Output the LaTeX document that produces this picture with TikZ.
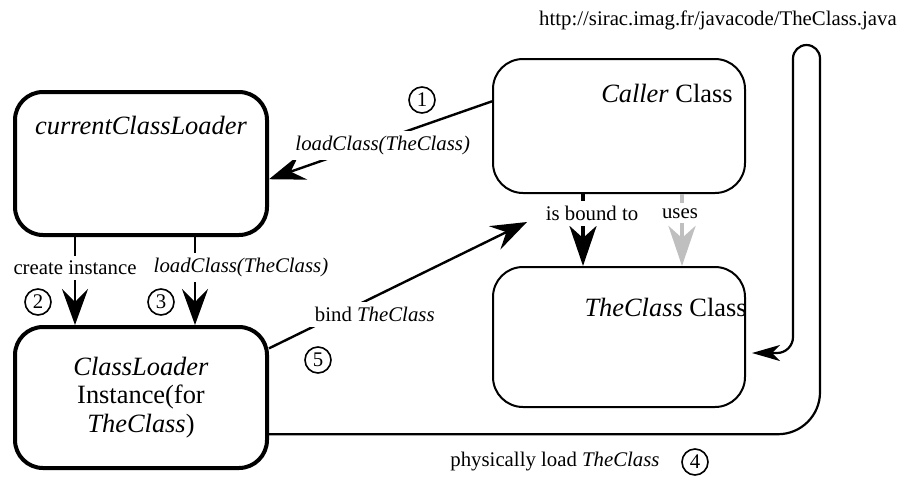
\documentclass[tikz,border=0pt]{standalone}
\usepackage{fontspec}
\setmainfont{Liberation Serif}
\usetikzlibrary{arrows.meta, positioning, calc}

\begin{document}
\begin{tikzpicture}[
    x=0.5pt, y=-0.5pt,
    bigtxt/.style={font=\fontsize{13.2}{14.3}\selectfont, inner sep=0pt, align=center},
    lbl/.style={font=\fontsize{10.4}{12}\selectfont, fill=white, text=black, inner sep=2.5pt},
    loader/.style={rectangle, draw, line width=2pt, rounded corners=14pt, minimum width=126pt, inner sep=0pt, bigtxt},
    klass/.style={rectangle, draw, line width=1pt, rounded corners=15pt, minimum width=126pt, inner sep=0pt},
    num/.style={circle, draw, line width=0.8pt, minimum size=13pt, inner sep=0pt, font=\fontsize{10.4}{12}\selectfont},
    arrow/.style={-{Stealth[length=18pt, width=13pt, inset=6.5pt]}, line width=1.2pt},
    fatarrow/.style={-{Stealth[length=20pt, width=13.5pt, inset=6pt]}, line width=2.2pt},
    loadarrow/.style={-{Stealth[length=14pt, width=8pt, inset=4pt]}, line width=1.1pt},
]
\useasboundingbox (0,0) rectangle (905,478);

% Loaders
\node[loader, minimum height=71.5pt] (current) at (141,163.5) {};
\node[bigtxt] (currenttxt) at (141,125) {\textit{currentClassLoader}};
\node[loader, minimum height=70.5pt] (instance) at (141,397.5) {\textit{ClassLoader}\\Instance(for\\\textit{TheClass})};

% Classes
\node[klass, minimum height=67pt] (caller) at (619,126) {};
\node[bigtxt, anchor=east] (callertxt) at (733,93) {\textit{Caller} Class};
\node[klass, minimum height=70pt] (theclass) at (619,337) {};
\node[bigtxt, anchor=east] (theclasstxt) at (747,307) {\textit{TheClass} Class};

% Source
\node[lbl] (url) at (718,20) {http://sirac.imag.fr/javacode/TheClass.java};
\node[lbl] (loadlbl) at (555,462) {physically load \textit{TheClass}};

% Steps
\node[num] (n1) at (422,100) {1};
\node[num] (n2) at (38,302) {2};
\node[num] (n3) at (161,302) {3};
\node[num] (n4) at (695,462) {4};
\node[num] (n5) at (318,360) {5};

\coordinate (c2) at (75,0);
\coordinate (c3) at (195,0);
\coordinate (bx) at (583,0);
\coordinate (ux) at (682,0);
\coordinate (bindend) at (527,222);
\coordinate (loadcorner) at (820,0);
\coordinate (uturnR) at (820,45);
\coordinate (uturnL) at (793,45);
\coordinate (dropcorner) at (793,353);
\coordinate (loadend) at (752,353);

% Arrows: requests
\draw[arrow] (caller.169) -- node[lbl, pos=0.49, yshift=-3pt] {\textit{loadClass(TheClass)}} (current.-7);
\draw[arrow] (current.south -| c2) -- node[lbl, pos=0.35] {create instance} (instance.north -| c2);
\draw[arrow] (current.south -| c3) -- node[lbl, pos=0.35, xshift=23pt] {\textit{loadClass(TheClass)}} (instance.north -| c3);
\draw[arrow] (instance.21) -- node[lbl, pos=0.41, yshift=-9pt] {bind \textit{TheClass}} (bindend);

% Arrows: between classes
\draw[fatarrow] (caller.south -| bx) -- node[lbl, pos=0.27, xshift=4.5pt] {is bound to} (theclass.north -| bx);
\draw[fatarrow, color=black!25] (caller.south -| ux) -- node[lbl, pos=0.27, xshift=-1pt] {uses} (theclass.north -| ux);

% Physical load
\draw[loadarrow] (instance.-16) [rounded corners=21pt] -- (instance.-16 -| loadcorner)
    [rounded corners=6.75pt] -- (uturnR) -- (uturnL)
    [rounded corners=8pt] -- (dropcorner) -- (loadend);

\end{tikzpicture}
\end{document}
